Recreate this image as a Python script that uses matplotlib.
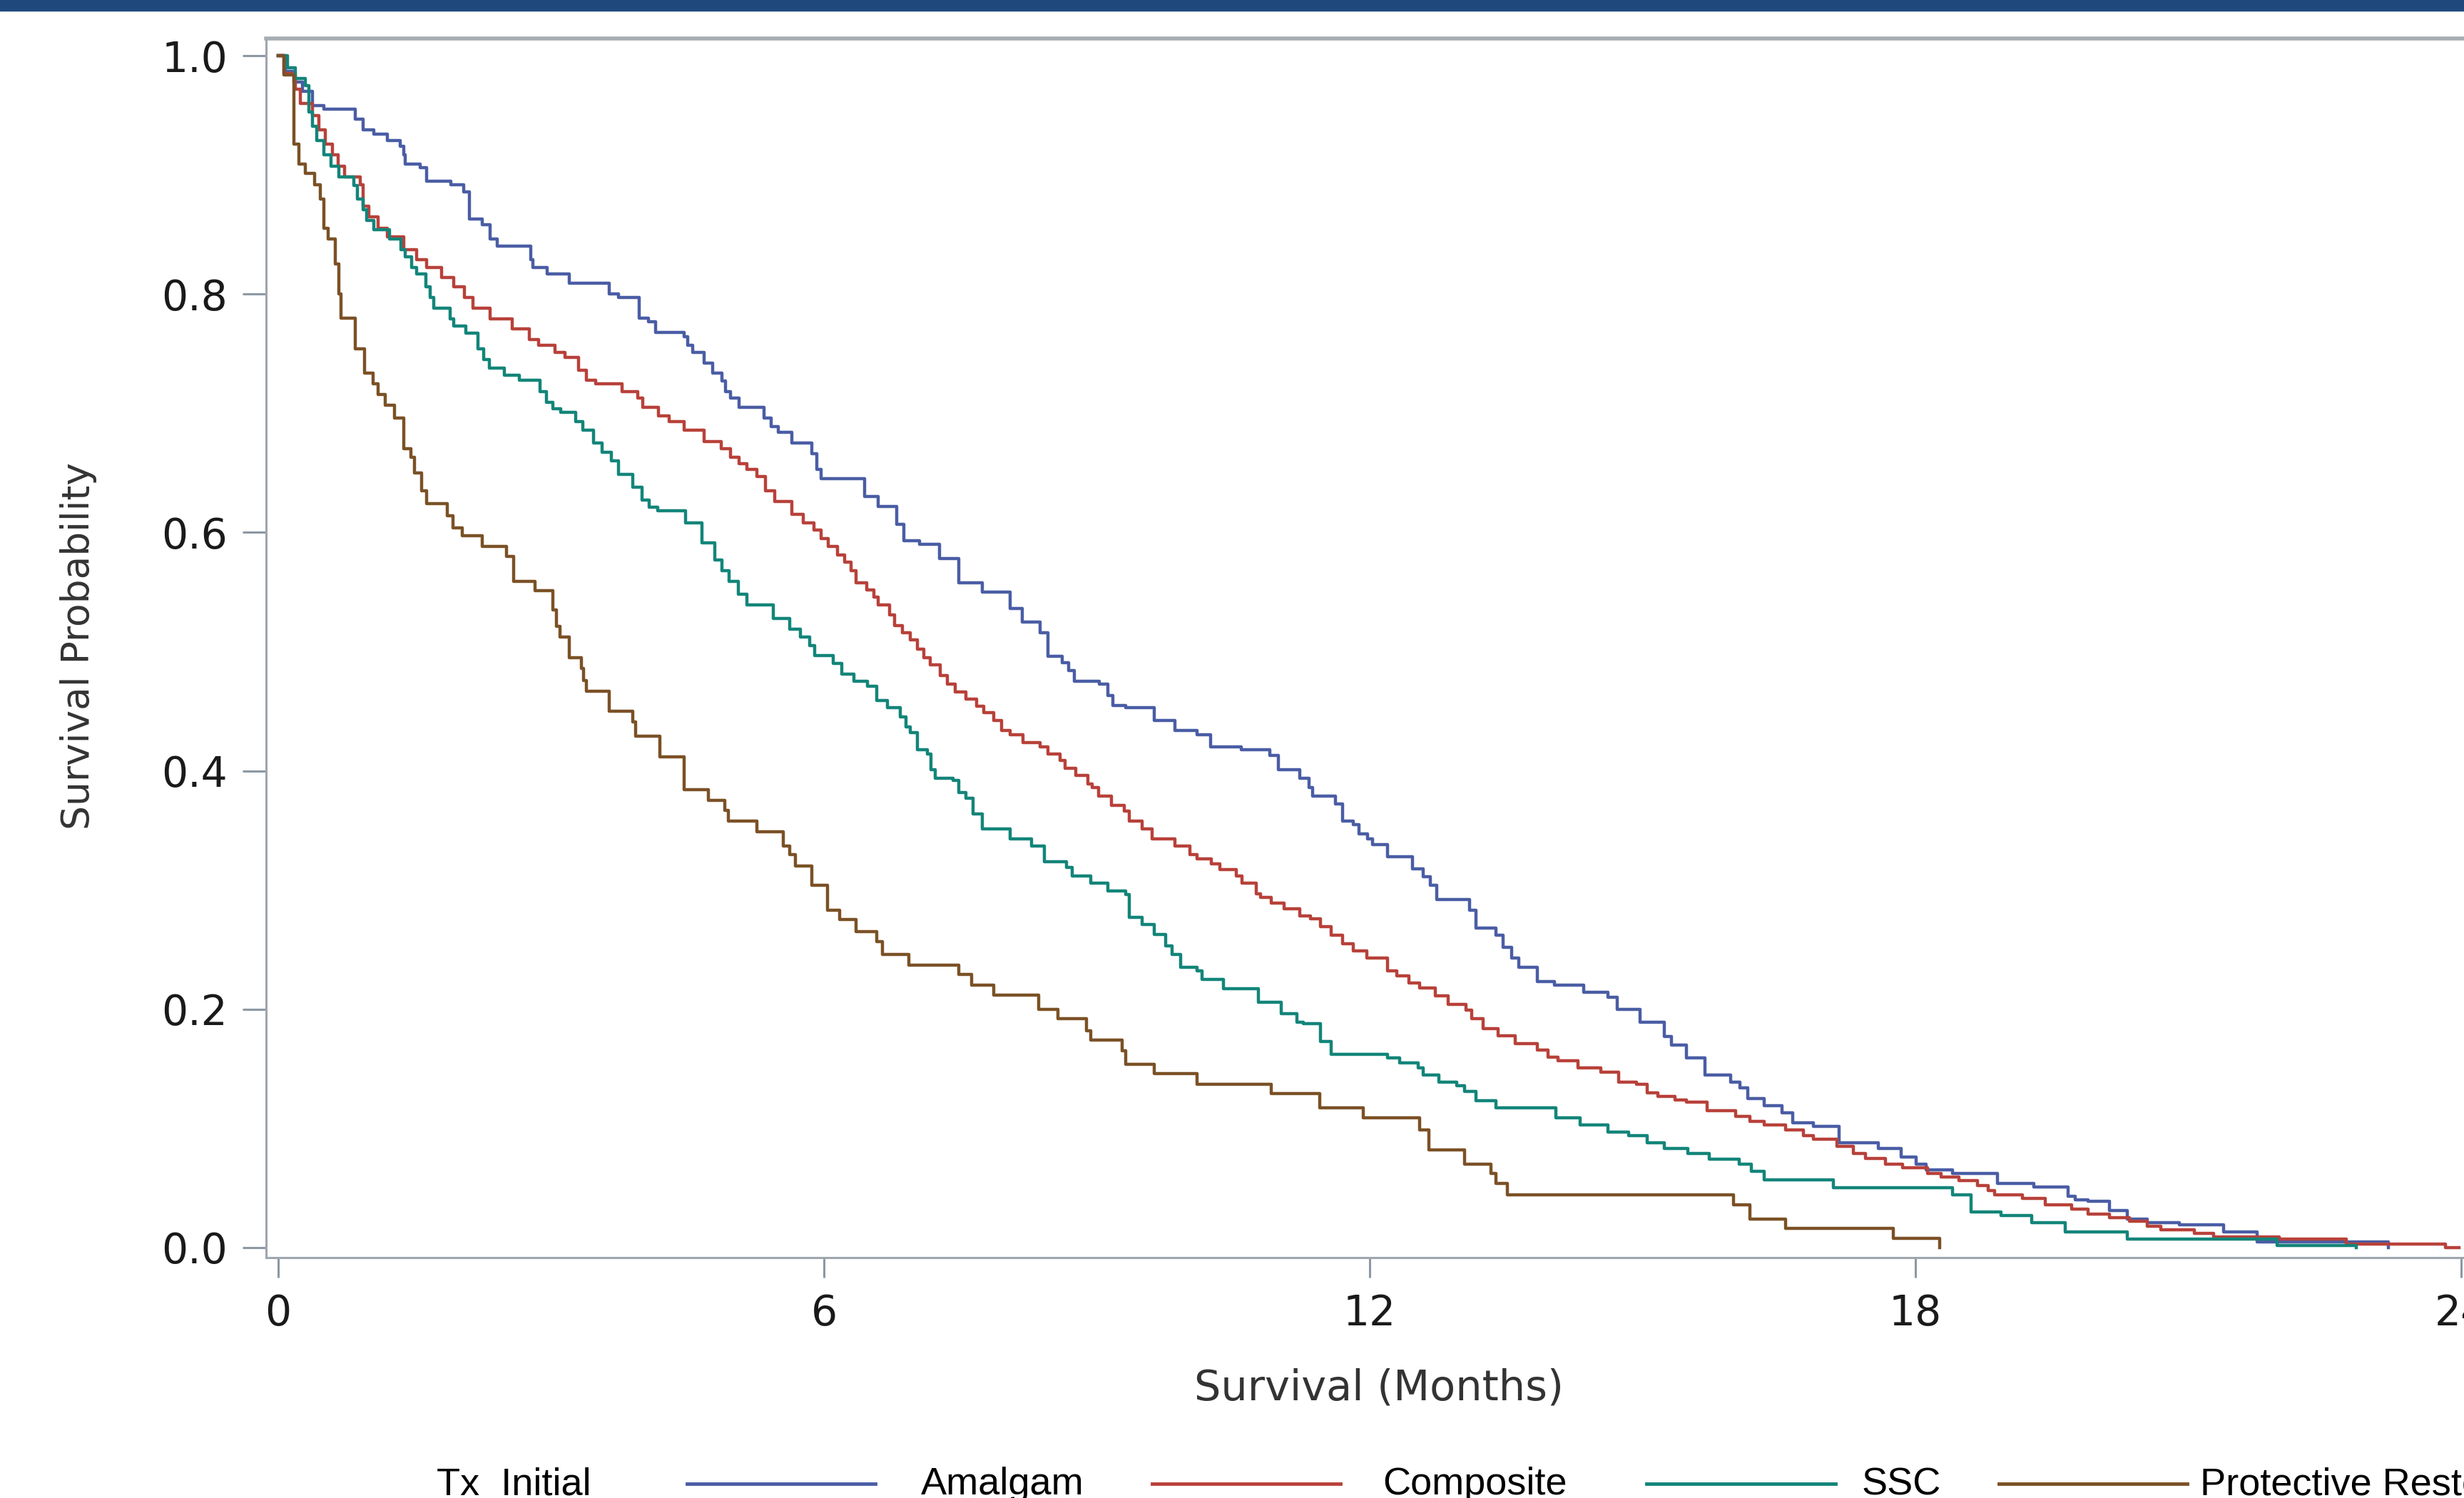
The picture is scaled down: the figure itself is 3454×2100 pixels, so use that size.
import matplotlib.pyplot as plt
from matplotlib.lines import Line2D

# Kaplan-Meier step points (time in months, survival)
amalgam_t = [0, 0.08, 0.17, 0.27, 0.38, 0.5, 0.6, 0.85, 0.93, 1.05, 1.2, 1.34, 1.38, 1.4, 1.56,
             1.63, 1.9, 2.04, 2.1, 2.24, 2.33, 2.41, 2.78, 2.8, 2.96, 3.2, 3.64, 3.74, 3.97, 4.07,
             4.15, 4.46, 4.5, 4.56, 4.68, 4.78, 4.88, 4.92, 4.97, 5.07, 5.34, 5.42, 5.5, 5.65, 5.87,
             5.92, 5.97, 6.45, 6.6, 6.8, 6.88, 7.05, 7.27, 7.48, 7.74, 8.05, 8.18, 8.38, 8.46, 8.62,
             8.69, 8.75, 9.03, 9.12, 9.18, 9.32, 9.63, 9.86, 10.1, 10.25, 10.59, 10.9, 11.0, 11.23,
             11.33, 11.37, 11.62, 11.7, 11.82, 11.88, 11.98, 12.03, 12.2, 12.47, 12.59, 12.67, 12.74,
             13.1, 13.17, 13.39, 13.47, 13.56, 13.64, 13.84, 14.03, 14.35, 14.62, 14.72, 14.97, 15.24,
             15.32, 15.48, 15.69, 15.97, 16.07, 16.16, 16.34, 16.53, 16.65, 16.88, 17.16, 17.59, 17.84,
             18.01, 18.12, 18.41, 18.9, 19.3, 19.68, 19.76, 19.9, 20.13, 20.33, 20.55, 20.9, 21.39,
             21.76, 23.2]
amalgam_s = [1.0, 0.987, 0.978, 0.970, 0.958, 0.955, 0.955, 0.947, 0.938, 0.934, 0.929, 0.924, 0.917,
             0.909, 0.906, 0.895, 0.892, 0.886, 0.863, 0.858, 0.846, 0.840, 0.829, 0.822, 0.817, 0.809,
             0.800, 0.797, 0.780, 0.777, 0.768, 0.764, 0.757, 0.751, 0.742, 0.734, 0.727, 0.718, 0.713,
             0.705, 0.696, 0.689, 0.684, 0.675, 0.666, 0.653, 0.645, 0.630, 0.622, 0.607, 0.593, 0.590,
             0.578, 0.558, 0.550, 0.536, 0.525, 0.516, 0.496, 0.491, 0.484, 0.475, 0.473, 0.463, 0.455,
             0.453, 0.442, 0.434, 0.430, 0.420, 0.418, 0.413, 0.401, 0.394, 0.386, 0.379, 0.372, 0.358,
             0.355, 0.347, 0.343, 0.338, 0.328, 0.318, 0.311, 0.304, 0.292, 0.283, 0.268, 0.262, 0.252,
             0.243, 0.235, 0.223, 0.220, 0.214, 0.210, 0.200, 0.189, 0.177, 0.170, 0.159, 0.145, 0.139,
             0.134, 0.125, 0.119, 0.113, 0.105, 0.102, 0.088, 0.083, 0.076, 0.070, 0.065, 0.062, 0.054,
             0.051, 0.043, 0.040, 0.039, 0.031, 0.024, 0.021, 0.019, 0.013, 0.005, 0.0]

composite_t = [0, 0.06, 0.19, 0.24, 0.38, 0.45, 0.52, 0.6, 0.66, 0.73, 0.9, 0.93, 1.0, 1.1, 1.2, 1.38,
               1.52, 1.63, 1.8, 1.93, 2.05, 2.14, 2.33, 2.57, 2.76, 2.86, 3.04, 3.15, 3.3, 3.39, 3.49,
               3.78, 3.95, 4.01, 4.18, 4.3, 4.46, 4.68, 4.87, 4.97, 5.07, 5.15, 5.26, 5.36, 5.46, 5.65,
               5.77, 5.89, 5.97, 6.05, 6.15, 6.23, 6.3, 6.35, 6.47, 6.55, 6.6, 6.72, 6.78, 6.86, 6.95,
               7.03, 7.1, 7.17, 7.28, 7.36, 7.44, 7.56, 7.68, 7.76, 7.87, 7.95, 8.05, 8.19, 8.38, 8.46,
               8.6, 8.65, 8.77, 8.9, 8.95, 9.02, 9.16, 9.3, 9.36, 9.5, 9.61, 9.86, 10.02, 10.1, 10.26,
               10.35, 10.53, 10.6, 10.75, 10.8, 10.92, 11.06, 11.23, 11.35, 11.46, 11.58, 11.7, 11.82,
               11.97, 12.2, 12.3, 12.43, 12.55, 12.72, 12.86, 13.06, 13.12, 13.25, 13.41, 13.6, 13.84,
               13.96, 14.07, 14.29, 14.54, 14.74, 14.93, 15.05, 15.17, 15.36, 15.48, 15.71, 16.02, 16.18,
               16.34, 16.57, 16.77, 16.88, 17.14, 17.32, 17.45, 17.67, 17.86, 18.13, 18.28, 18.48, 18.68,
               18.8, 18.87, 19.18, 19.43, 19.72, 19.9, 20.13, 20.35, 20.55, 20.7, 21.07, 21.28, 22.0,
               22.74, 23.83, 23.98]
composite_s = [1.0, 0.985, 0.972, 0.960, 0.950, 0.938, 0.926, 0.917, 0.907, 0.898, 0.892, 0.874, 0.865,
               0.855, 0.848, 0.837, 0.829, 0.822, 0.814, 0.806, 0.797, 0.788, 0.779, 0.771, 0.762, 0.757,
               0.751, 0.747, 0.736, 0.728, 0.725, 0.718, 0.713, 0.705, 0.698, 0.693, 0.686, 0.676, 0.670,
               0.663, 0.658, 0.653, 0.647, 0.635, 0.626, 0.615, 0.608, 0.602, 0.595, 0.588, 0.581, 0.575,
               0.568, 0.558, 0.552, 0.546, 0.539, 0.531, 0.522, 0.516, 0.510, 0.502, 0.495, 0.489, 0.480,
               0.473, 0.466, 0.460, 0.454, 0.449, 0.442, 0.434, 0.430, 0.424, 0.420, 0.414, 0.409, 0.402,
               0.396, 0.389, 0.386, 0.379, 0.371, 0.366, 0.358, 0.351, 0.343, 0.337, 0.330, 0.326, 0.322,
               0.317, 0.312, 0.306, 0.297, 0.294, 0.289, 0.284, 0.278, 0.276, 0.269, 0.262, 0.255, 0.249,
               0.243, 0.232, 0.228, 0.222, 0.218, 0.211, 0.204, 0.199, 0.192, 0.184, 0.178, 0.171, 0.166,
               0.160, 0.157, 0.151, 0.147, 0.139, 0.137, 0.130, 0.127, 0.124, 0.122, 0.115, 0.110, 0.106,
               0.103, 0.099, 0.094, 0.091, 0.085, 0.079, 0.075, 0.070, 0.067, 0.062, 0.059, 0.056, 0.052,
               0.048, 0.044, 0.041, 0.036, 0.032, 0.028, 0.025, 0.022, 0.018, 0.015, 0.012, 0.009, 0.007,
               0.003, 0.0, 0.0]

ssc_t = [0, 0.1, 0.19, 0.3, 0.34, 0.38, 0.42, 0.5, 0.58, 0.67, 0.83, 0.87, 0.93, 0.97, 1.05, 1.22,
         1.35, 1.4, 1.47, 1.52, 1.62, 1.67, 1.71, 1.89, 1.93, 2.06, 2.2, 2.26, 2.32, 2.49, 2.65, 2.88,
         2.95, 3.02, 3.11, 3.27, 3.35, 3.47, 3.56, 3.66, 3.74, 3.9, 4.0, 4.08, 4.17, 4.48, 4.66, 4.8,
         4.88, 4.96, 5.06, 5.15, 5.44, 5.62, 5.74, 5.84, 5.9, 6.1, 6.2, 6.33, 6.48, 6.58, 6.7, 6.84,
         6.9, 6.95, 7.03, 7.14, 7.18, 7.22, 7.42, 7.48, 7.56, 7.64, 7.74, 8.05, 8.28, 8.42, 8.67, 8.73,
         8.93, 9.12, 9.32, 9.36, 9.5, 9.63, 9.76, 9.83, 9.92, 10.1, 10.16, 10.39, 10.78, 11.03, 11.2,
         11.27, 11.46, 11.58, 12.2, 12.33, 12.53, 12.59, 12.76, 12.96, 13.04, 13.17, 13.39, 14.05,
         14.31, 14.62, 14.85, 15.05, 15.24, 15.5, 15.73, 16.06, 16.2, 16.34, 17.1, 18.41, 18.61,
         18.94, 19.28, 19.65, 20.33, 21.98, 22.85]
ssc_s = [1.0, 0.990, 0.981, 0.975, 0.953, 0.941, 0.929, 0.917, 0.907, 0.898, 0.891, 0.880, 0.871,
         0.862, 0.854, 0.846, 0.837, 0.831, 0.822, 0.817, 0.806, 0.797, 0.788, 0.779, 0.773, 0.767,
         0.754, 0.745, 0.738, 0.732, 0.728, 0.718, 0.709, 0.704, 0.701, 0.693, 0.686, 0.675, 0.667,
         0.660, 0.649, 0.638, 0.627, 0.621, 0.618, 0.608, 0.591, 0.577, 0.568, 0.559, 0.548, 0.539,
         0.528, 0.519, 0.512, 0.505, 0.497, 0.490, 0.481, 0.475, 0.471, 0.459, 0.453, 0.445, 0.437,
         0.432, 0.418, 0.414, 0.401, 0.394, 0.392, 0.382, 0.377, 0.364, 0.351, 0.343, 0.337, 0.324,
         0.319, 0.312, 0.306, 0.299, 0.296, 0.277, 0.271, 0.263, 0.253, 0.246, 0.235, 0.232, 0.225,
         0.217, 0.206, 0.196, 0.189, 0.188, 0.173, 0.162, 0.159, 0.155, 0.151, 0.145, 0.139, 0.136,
         0.131, 0.123, 0.117, 0.109, 0.103, 0.097, 0.094, 0.088, 0.083, 0.079, 0.074, 0.070, 0.064,
         0.057, 0.050, 0.044, 0.030, 0.027, 0.021, 0.013, 0.007, 0.002, 0.0]

protect_t = [0, 0.06, 0.17, 0.23, 0.3, 0.4, 0.46, 0.5, 0.55, 0.63, 0.67, 0.69, 0.85, 0.95, 1.04, 1.1,
             1.18, 1.28, 1.38, 1.46, 1.5, 1.58, 1.63, 1.86, 1.92, 2.02, 2.24, 2.51, 2.59, 2.82, 3.02,
             3.06, 3.1, 3.2, 3.33, 3.36, 3.39, 3.64, 3.9, 3.93, 4.2, 4.46, 4.73, 4.91, 4.95, 5.26, 5.55,
             5.62, 5.69, 5.87, 6.04, 6.17, 6.35, 6.58, 6.64, 6.93, 7.48, 7.62, 7.87, 8.36, 8.57, 8.89,
             8.93, 9.28, 9.32, 9.63, 10.1, 10.92, 11.45, 11.93, 12.55, 12.65, 13.04, 13.33, 13.39, 13.51,
             16.0, 16.18, 16.57, 17.76, 18.27]
protect_s = [1.0, 0.984, 0.926, 0.909, 0.901, 0.892, 0.880, 0.855, 0.846, 0.825, 0.800, 0.780, 0.754,
             0.734, 0.725, 0.716, 0.707, 0.696, 0.670, 0.663, 0.650, 0.635, 0.624, 0.614, 0.604, 0.597,
             0.588, 0.580, 0.559, 0.551, 0.535, 0.521, 0.512, 0.495, 0.486, 0.476, 0.467, 0.450, 0.441,
             0.429, 0.412, 0.384, 0.375, 0.367, 0.358, 0.349, 0.337, 0.330, 0.320, 0.304, 0.283, 0.275,
             0.265, 0.257, 0.246, 0.237, 0.229, 0.220, 0.212, 0.200, 0.192, 0.182, 0.174, 0.165, 0.154,
             0.146, 0.137, 0.129, 0.117, 0.109, 0.099, 0.082, 0.070, 0.062, 0.054, 0.044, 0.036, 0.024,
             0.016, 0.008, 0.0]

groups = ["Amalgam", "Composite", "SSC", "Protective Restoration"]
colors = ["#4a5da5", "#b8413a", "#13857a", "#7b5126"]
x_ticks = [0, 6, 12, 18, 24]
y_ticks = [0.0, 0.2, 0.4, 0.6, 0.8, 1.0]

W, H = 3454, 2100
fig = plt.figure(figsize=(W / 100, H / 100), dpi=100)

# dark title band, cut off at the top of the picture
fig.patches.append(plt.Rectangle((0, 1 - 15 / H), 1, 15 / H, transform=fig.transFigure,
                                 color="#1f497d", zorder=5))

# axes run past the right edge (the source image is cropped)
ax = fig.add_axes([373 / W, 1 - 1763 / H, (3650 - 373) / W, (1763 - 54) / H])
ax.set_xlim(-0.133, (3650 - 390) / 127.5)
ax.set_ylim(-0.0084, 1.0144)

series = [(amalgam_t, amalgam_s), (composite_t, composite_s), (ssc_t, ssc_s), (protect_t, protect_s)]
for (t, s), c in zip(series, colors):
    ax.step(t, s, where="post", color=c, lw=3.2)

spine_col = "#9ea6ae"
for side in ["left", "bottom"]:
    ax.spines[side].set_color(spine_col)
    ax.spines[side].set_linewidth(2.2)
ax.spines["top"].set_color("#a8adb2")
ax.spines["top"].set_linewidth(4)
ax.spines["right"].set_visible(False)

ax.set_xticks(x_ticks)
ax.set_yticks(y_ticks)
ax.set_yticklabels([f"{v:.1f}" for v in y_ticks])
ax.tick_params(axis="both", colors="#8c98a4", width=2.2, labelcolor="#1a1a1a",
               labelsize=42)
ax.tick_params(axis="x", length=20, pad=16)
ax.tick_params(axis="y", length=24, pad=15)

fig.text(0.5597, 1 - 1963 / H, "Survival (Months)", fontsize=42.5, color="#333333",
         ha="center", va="baseline")
fig.text(0.0319, 0.5686, "Survival Probability", fontsize=38.5, color="#333333",
         rotation=90, ha="center", va="center")

# legend row along the bottom edge
leg_font = "Liberation Sans"
base_y = 5 / H
line_y = 1 - 2080 / H
fig.text(612 / W, base_y, "Tx  Initial", fontsize=39, family=leg_font, va="baseline")
line_x = [(963, 1227), (1615, 1879), (2308, 2573), (2802, 3066)]
text_x = [1291, 1938, 2610, 3084]
for name, c, (x0, x1), tx in zip(groups, colors, line_x, text_x):
    fig.add_artist(Line2D([x0 / W, x1 / W], [line_y, line_y], transform=fig.transFigure,
                          color=c, lw=3.5))
    fig.text(tx / W, base_y, name, fontsize=39, family=leg_font, va="baseline")

fig.savefig("out.png", dpi=100)
